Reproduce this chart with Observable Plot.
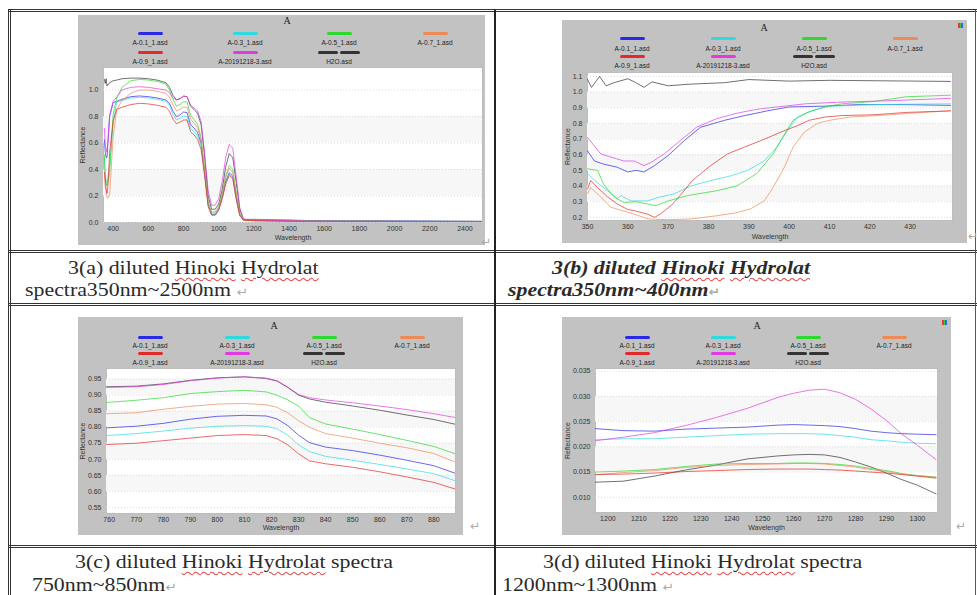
<!DOCTYPE html>
<html><head><meta charset="utf-8">
<script src="https://cdn.jsdelivr.net/npm/d3@7"></script>
<script src="https://cdn.jsdelivr.net/npm/@observablehq/plot@0.6"></script>
<style>
body{margin:0;background:#fff;}
#page{position:relative;width:977px;height:595px;overflow:hidden;background:#fff;}
.ln{position:absolute;}
.cap{position:absolute;font-family:"Liberation Serif","DejaVu Serif",serif;font-size:19px;line-height:22px;white-space:nowrap;color:#2a2a2a;transform:scaleX(1.15);transform-origin:0 50%;}
.sp{text-decoration:underline wavy #e05050;text-decoration-thickness:1px;text-underline-offset:3px;}
.pm{color:#aaa;font-size:12px;font-family:"DejaVu Sans",sans-serif;}
.pmark{position:absolute;color:#aaa;font-size:12px;font-family:"DejaVu Sans",sans-serif;}
.panel{position:absolute;background:#c2c2c2;}
.panel svg{display:block;position:absolute;left:0;top:0;}
.ttl{position:absolute;font-family:"Liberation Serif",serif;font-size:10px;color:#222;transform:translate(-50%,-50%);}
.sw{position:absolute;height:3px;border-radius:1.5px;}
.lb{position:absolute;font-family:"Liberation Sans",Arial,sans-serif;font-size:6.5px;color:#222;transform:translate(-50%,-50%);white-space:nowrap;}
.ico{position:absolute;width:5px;height:5px;background:linear-gradient(90deg,#e33 0 33%,#3c3 33% 66%,#36e 66%);}
</style>
</head><body><div id="page"></div>
<script>
// ---------- series ----------
const seriesNames = ["A-0.1_1.asd","A-0.3_1.asd","A-0.5_1.asd","A-0.7_1.asd","A-0.9_1.asd","A-20191218-3.asd","H2O.asd"];
const seriesColors = ["#2a2ae6","#30d8e0","#2ed82e","#ee8a55","#e22a2a","#e23ae2","#333333"];

// ---------- panel (a): 350-2500 nm ----------
const aWave = [350,355,360,365,370,380,400,420,450,500,550,600,650,700,720,740,760,780,800,820,840,860,880,900,920,940,960,980,1000,1020,1040,1060,1080,1100,1120,1140,1160,1200,1300,1500,1700,1900,2100,2300,2500];
const aBlue = [0.625,0.53,0.49,0.49,0.595,0.80,0.905,0.915,0.93,0.95,0.955,0.95,0.94,0.925,0.90,0.84,0.798,0.812,0.834,0.83,0.738,0.713,0.68,0.60,0.38,0.14,0.06,0.06,0.10,0.19,0.31,0.375,0.35,0.19,0.06,0.02,0.024,0.0236,0.022,0.015,0.013,0.013,0.012,0.01,0.008];
const aCyan = [0.48,0.37,0.305,0.305,0.33,0.435,0.755,0.91,0.92,0.94,0.945,0.94,0.93,0.915,0.885,0.815,0.774,0.788,0.803,0.80,0.709,0.684,0.655,0.58,0.37,0.13,0.06,0.06,0.10,0.19,0.30,0.365,0.34,0.18,0.055,0.02,0.021,0.0214,0.0206,0.013,0.011,0.011,0.01,0.009,0.008];
const aGreen = [0.51,0.33,0.295,0.28,0.30,0.37,0.82,0.94,1.02,1.07,1.08,1.075,1.065,1.045,1.0,0.93,0.877,0.892,0.911,0.91,0.81,0.777,0.74,0.64,0.40,0.15,0.08,0.08,0.12,0.22,0.35,0.43,0.40,0.22,0.07,0.02,0.015,0.015,0.014,0.01,0.009,0.009,0.008,0.008,0.008];
const aOrange = [0.35,0.265,0.24,0.19,0.185,0.21,0.65,0.85,0.92,0.975,1.0,1.0,0.99,0.975,0.945,0.89,0.842,0.856,0.872,0.87,0.78,0.75,0.718,0.62,0.40,0.15,0.07,0.07,0.11,0.21,0.34,0.41,0.38,0.21,0.065,0.02,0.015,0.0145,0.014,0.01,0.009,0.009,0.008,0.008,0.008];
const aRed = [0.38,0.33,0.25,0.22,0.275,0.53,0.765,0.855,0.87,0.89,0.90,0.895,0.885,0.87,0.84,0.78,0.746,0.758,0.774,0.774,0.686,0.661,0.628,0.55,0.35,0.12,0.055,0.055,0.09,0.18,0.29,0.355,0.33,0.17,0.05,0.018,0.015,0.0145,0.0138,0.01,0.009,0.009,0.008,0.008,0.008];
const aMagenta = [0.71,0.585,0.56,0.53,0.605,0.81,0.915,0.945,1.0,1.02,1.025,1.02,1.01,1.0,0.98,0.94,0.924,0.933,0.953,0.95,0.885,0.866,0.842,0.76,0.52,0.24,0.13,0.13,0.18,0.31,0.49,0.59,0.56,0.34,0.11,0.03,0.022,0.0212,0.0175,0.01,0.009,0.009,0.008,0.008,0.008];
const aBlack = [1.08,1.05,1.085,1.03,1.04,1.055,1.07,1.075,1.085,1.09,1.09,1.085,1.075,1.055,1.02,0.96,0.926,0.935,0.954,0.95,0.878,0.853,0.824,0.74,0.50,0.20,0.10,0.10,0.14,0.25,0.42,0.52,0.49,0.30,0.10,0.025,0.018,0.013,0.0107,0.008,0.007,0.007,0.006,0.006,0.006];
const aXTicks = [400,600,800,1000,1200,1400,1600,1800,2000,2200,2400];
const aYTicks = [0,0.2,0.4,0.6,0.8,1.0];

// ---------- panel (b): 350-440 nm, [wavelength, reflectance] ----------
const bBlue = [[350,0.625],[351.7,0.56],[354,0.54],[357.4,0.52],[360,0.49],[362,0.50],[364,0.49],[366.6,0.53],[370,0.595],[374,0.69],[378,0.775],[384,0.82],[389,0.85],[394.6,0.88],[400,0.905],[408.7,0.91],[417,0.92],[429,0.92],[440,0.915]];
const bCyan = [[350,0.48],[352.5,0.42],[355,0.37],[357.4,0.32],[358.3,0.34],[360.7,0.305],[364.8,0.305],[368,0.33],[371.5,0.35],[375.6,0.40],[380.5,0.435],[385.5,0.465],[389.7,0.50],[393.8,0.56],[397,0.65],[399.6,0.755],[402,0.84],[405.4,0.88],[410,0.91],[421,0.92],[440,0.925]];
const bGreen = [[350,0.51],[352.5,0.50],[354,0.41],[356.6,0.33],[359,0.295],[362,0.30],[367,0.275],[370,0.305],[375,0.34],[382,0.37],[387,0.40],[392,0.48],[396,0.605],[398.8,0.73],[401,0.82],[404.6,0.87],[408.7,0.905],[413,0.925],[421,0.94],[429,0.97],[440,0.98]];
const bOrange = [[350,0.35],[350.8,0.39],[353.3,0.33],[355.8,0.265],[359,0.24],[361.6,0.22],[365,0.19],[370,0.185],[375.6,0.19],[382,0.21],[387,0.23],[390.5,0.255],[393.8,0.305],[396,0.39],[398.8,0.52],[401,0.65],[403.8,0.745],[407,0.80],[410,0.82],[415,0.84],[425,0.855],[433,0.87],[440,0.88]];
const bRed = [[350,0.38],[350.8,0.435],[352.5,0.39],[355,0.33],[357.4,0.285],[360,0.25],[362,0.24],[365,0.22],[366.6,0.20],[368,0.22],[370.7,0.275],[373,0.34],[376,0.435],[380.5,0.53],[384.7,0.605],[389,0.65],[393,0.69],[398,0.745],[402,0.785],[405,0.82],[408.7,0.84],[413,0.85],[421,0.855],[429,0.87],[440,0.88]];
const bMagenta = [[350,0.71],[353.3,0.605],[355.8,0.585],[359,0.56],[361.6,0.56],[364,0.53],[365.7,0.55],[369,0.605],[373,0.69],[377,0.775],[382,0.83],[387,0.865],[392,0.89],[397,0.905],[404,0.925],[412,0.935],[425,0.945],[440,0.96]];
const bBlack = [[350,1.08],[351,1.03],[353,1.1],[354.6,1.04],[356.6,1.06],[360,1.085],[362,1.06],[364,1.03],[366,1.065],[370,1.04],[375,1.05],[384,1.06],[390,1.08],[400,1.07],[410,1.075],[440,1.068]];
const bXTicks = [350,360,370,380,390,400,410,420,430];
const bYTicks = [0.2,0.3,0.4,0.5,0.6,0.7,0.8,0.9,1.0,1.1];

// ---------- panel (c): 760-880 nm ----------
const cWave = [759,770,780,790,800,810,818,822,826,830,834,840,850,860,870,880,888];
const cBlue = [0.798,0.803,0.812,0.825,0.834,0.837,0.835,0.826,0.805,0.775,0.752,0.738,0.727,0.713,0.697,0.68,0.656];
const cCyan = [0.774,0.78,0.788,0.797,0.803,0.805,0.803,0.795,0.775,0.745,0.724,0.709,0.697,0.684,0.67,0.655,0.633];
const cGreen = [0.877,0.884,0.892,0.905,0.911,0.915,0.91,0.90,0.885,0.866,0.83,0.81,0.794,0.777,0.759,0.74,0.717];
const cOrange = [0.842,0.845,0.856,0.865,0.872,0.874,0.87,0.862,0.845,0.82,0.80,0.78,0.766,0.75,0.736,0.718,0.691];
const cRed = [0.746,0.75,0.758,0.766,0.774,0.777,0.774,0.764,0.745,0.717,0.695,0.686,0.675,0.661,0.645,0.628,0.607];
const cMagenta = [0.924,0.926,0.933,0.945,0.953,0.957,0.953,0.945,0.925,0.902,0.892,0.885,0.876,0.866,0.855,0.842,0.83];
const cBlack = [0.926,0.928,0.935,0.946,0.954,0.957,0.952,0.944,0.924,0.9,0.888,0.878,0.866,0.853,0.838,0.824,0.809];
const cXTicks = [760,770,780,790,800,810,820,830,840,850,860,870,880];
const cYTicks = [0.55,0.60,0.65,0.70,0.75,0.80,0.85,0.90,0.95];

// ---------- panel (d): 1200-1300 nm ----------
const dWave = [1196,1205,1215,1225,1235,1245,1255,1260,1265,1270,1275,1280,1285,1290,1295,1300,1306];
const dBlue = [0.0236,0.0232,0.0231,0.0235,0.0237,0.0239,0.0243,0.0244,0.0243,0.0242,0.024,0.0236,0.0231,0.0228,0.0226,0.0225,0.0224];
const dCyan = [0.0214,0.0216,0.0216,0.0219,0.0222,0.0225,0.0226,0.0226,0.0226,0.0225,0.0222,0.0219,0.0214,0.0212,0.0209,0.0207,0.0206];
const dGreen = [0.015,0.0152,0.0155,0.0161,0.0166,0.0167,0.0167,0.0168,0.0168,0.0167,0.0165,0.0162,0.0157,0.0153,0.0147,0.0143,0.014];
const dOrange = [0.0145,0.0149,0.0153,0.0159,0.0163,0.0165,0.0166,0.0167,0.0167,0.0166,0.0163,0.016,0.0155,0.0151,0.0146,0.0143,0.014];
const dRed = [0.0145,0.0146,0.0148,0.0151,0.0153,0.0155,0.0156,0.0156,0.0156,0.0155,0.0154,0.0152,0.015,0.0148,0.0145,0.0142,0.0138];
const dMagenta = [0.0212,0.0219,0.0228,0.0242,0.0258,0.0276,0.0298,0.0306,0.0312,0.0314,0.0307,0.0294,0.0275,0.0252,0.0225,0.0203,0.0175];
const dBlack = [0.013,0.0132,0.0142,0.0154,0.0164,0.0176,0.0182,0.0184,0.0185,0.0184,0.0179,0.017,0.016,0.0148,0.0135,0.0124,0.0107];
const dXTicks = [1200,1210,1220,1230,1240,1250,1260,1270,1280,1290,1300];
const dYTicks = [0.010,0.015,0.020,0.025,0.030,0.035];

// ---------- captions ----------
const captions = [
  {l1:["3(a) diluted ","Hinoki"," ","Hydrolat",""], l2:"spectra350nm~2500nm ", bi:false},
  {l1:["3(b) diluted ","Hinoki"," ","Hydrolat",""], l2:"spectra350nm~400nm", bi:true},
  {l1:["3(c) diluted ","Hinoki"," ","Hydrolat"," spectra"], l2:"750nm~850nm", bi:false},
  {l1:["3(d) diluted ","Hinoki"," ","Hydrolat"," spectra"], l2:"1200nm~1300nm ", bi:false}
];

// ---------- helpers ----------
const page = document.getElementById("page");
function el(cls, css, html){const d=document.createElement("div");d.className=cls;Object.assign(d.style,css);if(html!==undefined)d.innerHTML=html;return d;}
const order = [6,0,1,2,3,4,5];
function gridRows(wave, lists){return order.flatMap(k=>wave.map((w,i)=>({w,v:lists[k][i],s:seriesNames[k]})));}
function pairRows(lists){return order.flatMap(k=>lists[k].map(([w,v])=>({w,v,s:seriesNames[k]})));}

function drawPanel(p){
  const box = el("panel",{left:p.left+"px",top:p.top+"px",width:p.w+"px",height:p.h+"px"});
  const bands=[];
  for(let i=1;i+1<p.yTicks.length;i+=2) bands.push({y1:p.yTicks[i],y2:p.yTicks[i+1]});
  const svg = Plot.plot({
    width:p.w, height:p.h,
    marginLeft:p.ml, marginRight:p.mr, marginTop:p.mt, marginBottom:p.mb,
    style:{background:"transparent",fontFamily:"'Liberation Sans',Arial,sans-serif",fontSize:"7px",color:"#333",overflow:"visible"},
    color:{domain:seriesNames, range:seriesColors},
    x:{domain:p.xDomain, ticks:p.xTicks, tickSize:0, tickPadding:4, tickFormat:d=>String(d), label:"Wavelength", labelAnchor:"center", labelOffset:p.xlo, labelArrow:"none"},
    y:{domain:p.yDomain, ticks:p.yTicks, tickSize:0, tickPadding:5, tickFormat:p.yFmt, label:"Reflectance", labelAnchor:"center", labelOffset:p.ylo, labelArrow:"none"},
    marks:[
      Plot.frame({fill:"white", stroke:"#bdbdbd"}),
      Plot.rect(bands,{y1:"y1",y2:"y2",fill:"#f7f7f7"}),
      Plot.gridY(p.yTicks,{stroke:"#dcdcdc",strokeOpacity:1,strokeDasharray:"1,2"}),
      Plot.line(p.rows,{x:"w",y:"v",z:"s",stroke:"s",strokeWidth:1,strokeOpacity:0.7,clip:true})
    ]
  });
  box.appendChild(svg);
  box.appendChild(el("ttl",{left:p.tx+"px",top:p.ty+"px"},"A"));
  if(p.icon) box.appendChild(el("ico",{left:(p.w-9)+"px",top:"3px"}));
  seriesNames.forEach((name,k)=>{
    const row = k<4?0:1, col = k%4;
    const cx = p.cols[col];
    const sy = row===0?p.ly[0]:p.ly[2], ly = row===0?p.ly[1]:p.ly[3];
    if(k===6){
      box.appendChild(el("sw",{left:(cx-21)+"px",top:(sy-1.5)+"px",width:"20px",background:seriesColors[k]}));
      box.appendChild(el("sw",{left:(cx+1)+"px",top:(sy-1.5)+"px",width:"20px",background:seriesColors[k]}));
    } else {
      box.appendChild(el("sw",{left:(cx-12.5)+"px",top:(sy-1.5)+"px",width:"25px",background:seriesColors[k]}));
    }
    box.appendChild(el("lb",{left:cx+"px",top:ly+"px"},name));
  });
  page.appendChild(box);
}

drawPanel({left:78,top:15,w:407,h:230,ml:25,mr:3,mt:52,mb:23,xDomain:[345,2500],yDomain:[0,1.17],xTicks:aXTicks,yTicks:aYTicks,yFmt:d3.format(".1f"),xlo:17,ylo:23,
  rows:gridRows(aWave,[aBlue,aCyan,aGreen,aOrange,aRed,aMagenta,aBlack]),tx:209,ty:5,cols:[72,167,261,357],ly:[18,27,37,46],icon:false});
drawPanel({left:562,top:20,w:405,h:223,ml:25,mr:15,mt:52,mb:23,xDomain:[350,440.5],yDomain:[0.18,1.125],xTicks:bXTicks,yTicks:bYTicks,yFmt:d3.format(".1f"),xlo:18,ylo:22,
  rows:pairRows([bBlue,bCyan,bGreen,bOrange,bRed,bMagenta,bBlack]),tx:202,ty:7,cols:[70,161,252,343],ly:[18,28,36,45],icon:true});
drawPanel({left:78,top:317,w:385,h:218,ml:28,mr:8,mt:51,mb:22,xDomain:[759,888],yDomain:[0.531,0.983],xTicks:cXTicks,yTicks:cYTicks,yFmt:d3.format(".2f"),xlo:16,ylo:26,
  rows:gridRows(cWave,[cBlue,cCyan,cGreen,cOrange,cRed,cMagenta,cBlack]),tx:196,ty:8,cols:[72,159,246,334],ly:[20,28,36,45],icon:false});
drawPanel({left:562,top:317,w:389,h:218,ml:33,mr:14,mt:51,mb:23,xDomain:[1196,1306.5],yDomain:[0.0070,0.0355],xTicks:dXTicks,yTicks:dYTicks,yFmt:d3.format(".3f"),xlo:17,ylo:30,
  rows:gridRows(dWave,[dBlue,dCyan,dGreen,dOrange,dRed,dMagenta,dBlack]),tx:195,ty:8,cols:[75,161,246,332],ly:[20,28,36,45],icon:true});

// ---------- table lines ----------
[
  {left:"8px",top:"9px",width:"969px",height:"0",borderTop:"3px double #333"},
  {left:"8px",top:"250px",width:"969px",height:"0",borderTop:"3px double #333"},
  {left:"8px",top:"303px",width:"969px",height:"0",borderTop:"3px double #333"},
  {left:"8px",top:"545px",width:"969px",height:"0",borderTop:"3px double #333"},
  {left:"8px",top:"9px",width:"0",height:"586px",borderLeft:"3px double #333"},
  {left:"494px",top:"10px",width:"0",height:"585px",borderLeft:"2px solid #222"},
  {left:"975px",top:"10px",width:"0",height:"585px",borderLeft:"1px solid #555"}
].forEach(c=>page.appendChild(el("ln",c)));

// paragraph marks beside images
[[481,235],[968,229],[470,519],[956,519]].forEach(([x,y])=>page.appendChild(el("pmark",{left:x+"px",top:y+"px"},"\u21B5")));

// ---------- caption text ----------
const capPos = [[68,257,25,279],[552,257,508,279],[75,551,32,574],[543,551,502,574]];
captions.forEach((c,i)=>{
  const [x1,y1,x2,y2] = capPos[i];
  const style = c.bi?{fontWeight:"bold",fontStyle:"italic"}:{};
  const l1 = c.l1[0]+'<span class="sp">'+c.l1[1]+'</span>'+c.l1[2]+'<span class="sp">'+c.l1[3]+'</span>'+c.l1[4];
  page.appendChild(el("cap",Object.assign({left:x1+"px",top:y1+"px"},style),l1));
  page.appendChild(el("cap",Object.assign({left:x2+"px",top:y2+"px"},style),c.l2+'<span class="pm">\u21B5</span>'));
});
</script>
</body></html>
